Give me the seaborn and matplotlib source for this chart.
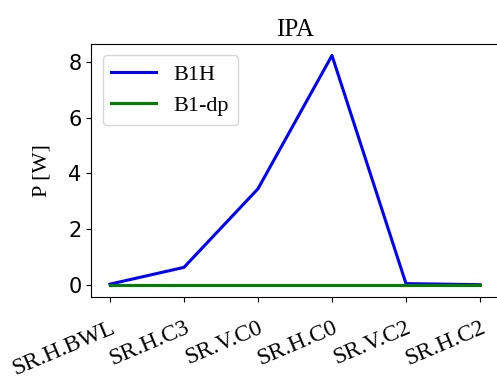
import matplotlib
matplotlib.use("Agg")
import matplotlib.pyplot as plt
import seaborn as sns
import pandas as pd

categories = ["SR.H.BWL", "SR.H.C3", "SR.V.C0", "SR.H.C0", "SR.V.C2", "SR.H.C2"]
b1h = [0.04, 0.64, 3.45, 8.22, 0.06, 0.02]
b1dp = [0.0, 0.0, 0.0, 0.0, 0.0, 0.0]

df = pd.DataFrame({
    "cat": categories * 2,
    "P": b1h + b1dp,
    "series": ["B1H"] * 6 + ["B1-dp"] * 6,
})

fig = plt.figure(figsize=(4.97, 3.79), dpi=100)
ax = fig.add_axes([0.184, 0.217, 0.819, 0.667])
sns.lineplot(data=df, x="cat", y="P", hue="series", palette={"B1H": "blue", "B1-dp": "green"},
             linewidth=2.2, ax=ax, sort=False)
serif = ["Liberation Serif", "DejaVu Serif"]
ax.set_title("IPA", fontsize=18, family=serif)
ax.set_ylabel("P [W]", fontsize=16, family=serif, labelpad=12)
ax.set_xlabel("")
ax.tick_params(axis="y", labelsize=15)
ax.tick_params(axis="x", labelsize=17, pad=11)
for t in ax.get_xticklabels():
    t.set_family(serif)
    t.set_rotation(23)
    t.set_ha("right")
    t.set_rotation_mode("anchor")
ax.set_yticks([0, 2, 4, 6, 8])
leg = ax.legend(loc="upper left", prop={"family": serif, "size": 16})
fig.savefig("out.png", dpi=100)
